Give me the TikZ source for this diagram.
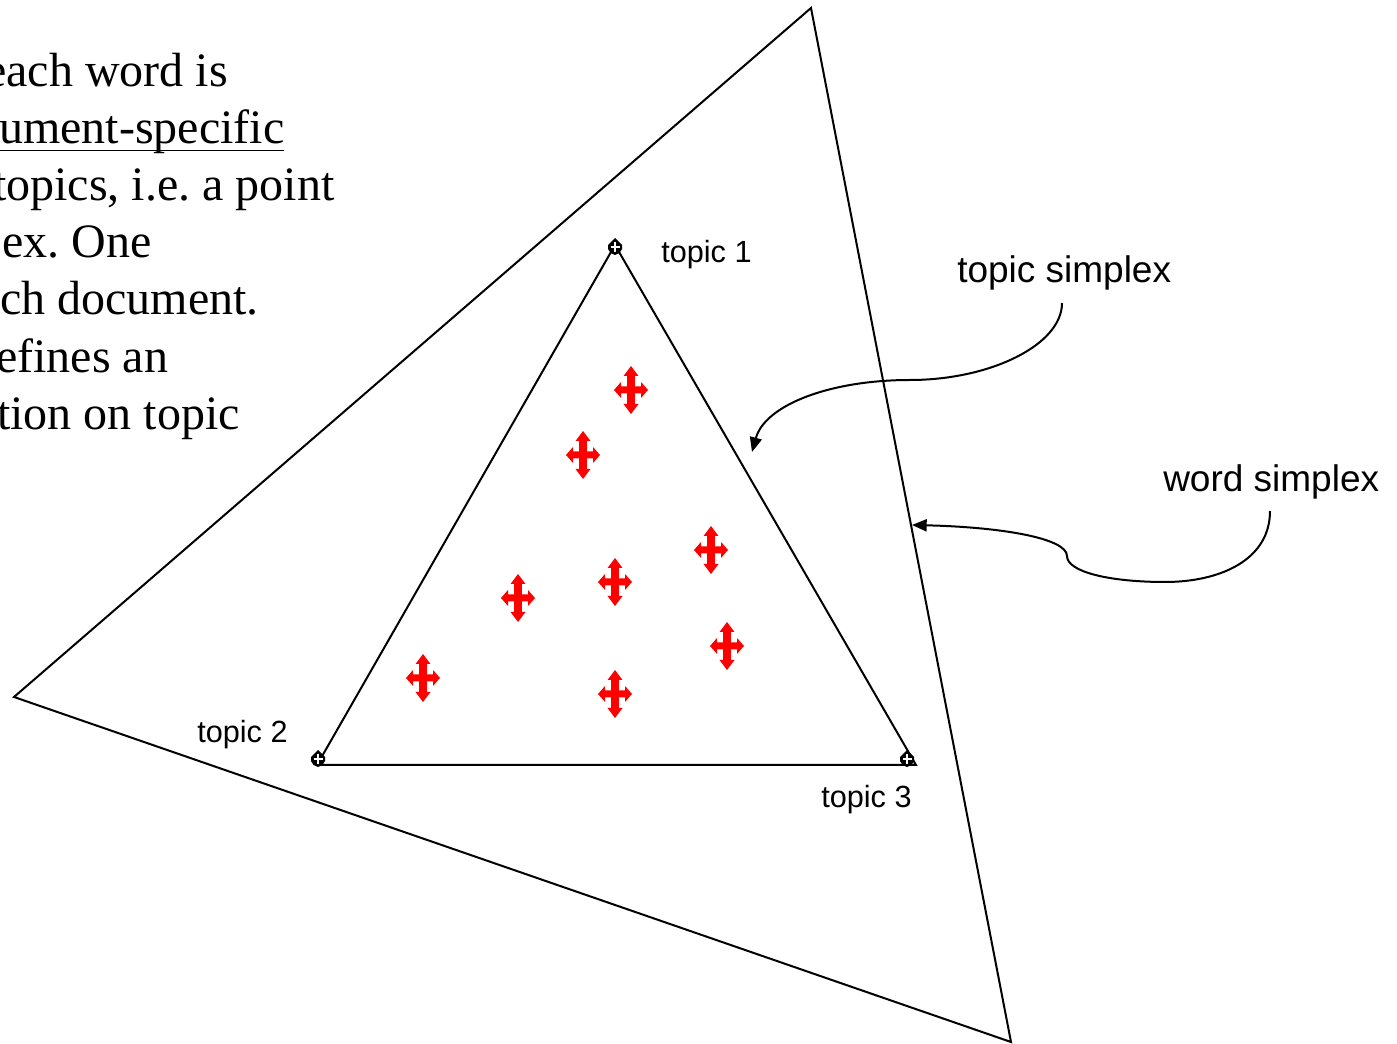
\documentclass[tikz,border=0pt]{standalone}
\usepackage{fontspec}
\setmainfont{Liberation Serif}
\newfontfamily\labelfont{Liberation Sans}
\usetikzlibrary{arrows.meta}
\newcommand\thickunderline[1]{\setbox0\hbox{#1}\rlap{\raisebox{-5.6pt}{\rule{\wd0}{1.4pt}}}\box0}
\begin{document}
\begin{tikzpicture}[x=0.75pt,y=-0.75pt,
  edge/.style={line width=1.5pt, line join=miter},
  bodytext/.style={anchor=base west, inner sep=0pt, font=\fontsize{36}{43}\selectfont\frenchspacing},
  toplabel/.style={anchor=base west, inner sep=0pt, font=\labelfont\fontsize{23}{27}\selectfont},
  simplexlabel/.style={anchor=base west, inner sep=0pt, font=\labelfont\fontsize{27.75}{33}\selectfont},
  callout/.style={line width=1.5pt, -{Triangle[length=11pt,width=9pt]}},
  redmark/.pic={\fill[red] (0,-24) -- (7.5,-14) -- (3.8,-14) -- (3.8,-3.5) -- (10,-3.5) -- (10,-8) -- (17,0) -- (10,8) -- (10,3.5) -- (3.8,3.5) -- (3.8,14) -- (7.5,14) -- (0,24) -- (-7.5,14) -- (-3.8,14) -- (-3.8,3.5) -- (-10,3.5) -- (-10,8) -- (-17,0) -- (-10,-8) -- (-10,-3.5) -- (-3.8,-3.5) -- (-3.8,-14) -- (-7.5,-14) -- cycle;},
  vertexmark/.pic={
    \fill[black] (0,-9) -- (4.5,-4.5) -- (7,-2) -- (7,2) -- (4.5,6) -- (0,8) -- (-4.5,6) -- (-7,2) -- (-7,-2) -- (-4.5,-4.5) -- cycle;
    \draw[white, line width=1.1pt] (-4.5,0) -- (4.5,0) (0,-5) -- (0,5);},
  ]
\useasboundingbox (0,0) rectangle (1397,1044);
\clip (0,0) rectangle (1397,1044);

% left text (cut off at the left edge)
\node[bodytext] (l1) at (-15,87) {each word is};
\node[bodytext] (l2) at (-1,144) {\thickunderline{ument-specific}};
\node[bodytext] (l3) at (-7,201) {topics, i.e. a point};
\node[bodytext] (l4) at (2,258) {ex. One};
\node[bodytext] (l5) at (0,315) {ch document.};
\node[bodytext] (l6) at (-4,373) {efines an};
\node[bodytext] (l7) at (-3,430) {tion on topic};

% word simplex (outer triangle)
\coordinate (w1) at (811,8);
\coordinate (w2) at (14,697);
\coordinate (w3) at (1011,1042);
\draw[edge] (w1) -- (w2) -- (w3) -- cycle;

% topic simplex (inner triangle)
\coordinate (t1) at (615,245);
\coordinate (t2) at (317,765);
\coordinate (t3) at (916,765);
\draw[edge] (t1) -- (t2) -- (t3) -- cycle;

% vertex markers
\pic at (615,247) {vertexmark};
\pic at (318,759) {vertexmark};
\pic at (907,759) {vertexmark};

% document points
\pic at (631,390) {redmark};
\pic at (583,455) {redmark};
\pic at (711,550) {redmark};
\pic at (518,598) {redmark};
\pic at (615,582) {redmark};
\pic at (727,646) {redmark};
\pic at (423,678) {redmark};
\pic at (615,694) {redmark};

% labels
\node[toplabel] (lt1) at (661,263) {topic 1};
\node[toplabel] (lt2) at (197,743) {topic 2};
\node[toplabel] (lt3) at (821,807) {topic 3};
\node[simplexlabel] (lts) at (957,283) {topic simplex};
\node[simplexlabel] (lws) at (1163,492) {word simplex};

% callouts
\coordinate (tsStart) at (1062,303);
\coordinate (tsEnd) at (752,452);
\draw[callout] (tsStart) .. controls (1062,345) and (990,380) .. (910,380)
  .. controls (830,380) and (765,405) .. (tsEnd);

\coordinate (wsStart) at (1270,511);
\coordinate (wsEnd) at (912,525);
\draw[callout] (wsStart) .. controls (1270,560) and (1220,582) .. (1165,582)
  .. controls (1110,582) and (1067,572) .. (1067,556)
  .. controls (1067,538) and (1000,527) .. (wsEnd);
\end{tikzpicture}
\end{document}
